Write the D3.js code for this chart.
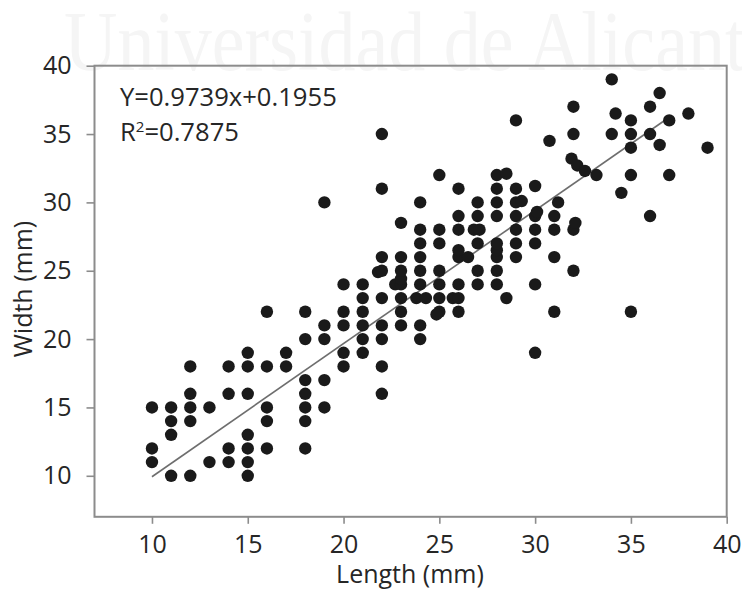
<!DOCTYPE html>
<html>
<head>
<meta charset="utf-8">
<script src="https://cdn.jsdelivr.net/npm/d3@7"></script>
<style>
    body { margin: 0; background: #fff; }
    svg { display: block; }
    text { font-family: "Open Sans", sans-serif; fill: #262626; }
</style>
</head>
<body>
<div id="chart"></div>
<script>
const lengths = [
    11, 12, 15,
    10, 13, 14, 15,
    10, 14, 15, 16, 18,
    11, 15,
    11, 12, 16, 18,
    10, 11, 12, 13, 16, 18, 19,
    12, 14, 15, 18, 22,
    18, 19,
    12, 14, 15, 16, 17, 20, 22,
    15, 17, 20, 21, 30,
    18, 19, 21, 22, 24,
    19, 20, 21, 22, 23, 24,
    16, 18, 20, 21, 23, 25, 26, 31, 35, 24.85,
    21, 22, 23, 23.8, 24.3, 25, 25.7, 26, 28.5,
    20, 21, 22.7, 23, 24, 25, 26, 27, 28, 30, 23,
    21.8, 22, 23, 24, 25, 27, 28, 32,
    22, 23, 24, 26, 26.5, 28, 29, 31, 26, 28,
    24, 25, 27, 28, 29, 30,
    24, 25, 26, 26.8, 27.1, 29, 30, 31, 32,
    26, 27, 28, 29, 30, 31, 36,
    23, 32.1, 30.1,
    19, 24, 27, 28, 29, 29.3, 31.2,
    22, 26, 28, 29,
    25, 28, 28.5, 35, 37, 30,
    31.9, 32.2, 32.6, 33.2, 34.5,
    22, 32, 34, 35, 36, 30.75, 35, 39, 36.5,
    29, 35, 37, 34.2, 38, 32, 36, 36.5, 34
];
const widths = [
    10, 10, 10,
    11, 11, 11, 11,
    12, 12, 12, 12, 12,
    13, 13,
    14, 14, 14, 14,
    15, 15, 15, 15, 15, 15, 15,
    16, 16, 16, 16, 16,
    17, 17,
    18, 18, 18, 18, 18, 18, 18,
    19, 19, 19, 19, 19,
    20, 20, 20, 20, 20,
    21, 21, 21, 21, 21, 21,
    22, 22, 22, 22, 22, 22, 22, 22, 22, 21.8,
    23, 23, 23, 23, 23, 23, 23, 23, 23,
    24, 24, 24, 24, 24, 24, 24, 24, 24, 24, 24.4,
    24.9, 25, 25, 25, 25, 25, 25, 25,
    26, 26, 26, 26, 26, 26, 26, 26, 26.5, 26.5,
    27, 27, 27, 27, 27, 27,
    28, 28, 28, 28, 28, 28, 28, 28, 28,
    29, 29, 29, 29, 29, 29, 29,
    28.5, 28.5, 29.3,
    30, 30, 30, 30, 30, 30.1, 30,
    31, 31, 31, 31,
    32, 32, 32.1, 32, 32, 31.2,
    33.2, 32.7, 32.3, 32, 30.7,
    35, 35, 35, 35, 35, 34.5, 34, 34, 34.2,
    36, 36, 36, 36.5, 36.5, 37, 37, 38, 39
];
const tickValues = [10, 15, 20, 25, 30, 35, 40];
const fitLengths = [10, 37];
const fitWidths = [9.93, 36.23];

const width = 742;
const height = 590;

const svg = d3.select("#chart")
    .append("svg")
    .attr("width", width)
    .attr("height", height);

// watermark, squeezed sideways like the scanned one
svg.append("text")
    .attr("transform", "translate(64,70) scale(0.88,1)")
    .style("font-family", "'Liberation Serif', serif")
    .style("font-size", "84px")
    .style("fill", "#f5f5f5")
    .text("Universidad de Alicante");

const xScale = d3.scaleLinear().domain([7, 40]).range([94.5, 726.7]);
const yScale = d3.scaleLinear().domain([7, 40]).range([516.8, 65.7]);

svg.append("rect")
    .attr("x", xScale(7))
    .attr("y", yScale(40))
    .attr("width", xScale(40) - xScale(7))
    .attr("height", yScale(7) - yScale(40))
    .attr("fill", "none")
    .attr("stroke", "#8c8c8c")
    .attr("stroke-width", 2);

svg.append("g")
    .attr("transform", `translate(0,${yScale(7)})`)
    .call(d3.axisBottom(xScale).tickValues(tickValues).tickSize(7).tickPadding(11).tickSizeOuter(0));

svg.append("g")
    .attr("transform", `translate(${xScale(7)},0)`)
    .call(d3.axisLeft(yScale).tickValues(tickValues).tickSize(8).tickPadding(15).tickSizeOuter(0));

svg.selectAll(".domain").attr("stroke", "none");
svg.selectAll(".tick line").attr("stroke", "#8c8c8c").attr("stroke-width", 1.6);
svg.selectAll(".tick text")
    .style("font-family", "'Open Sans', sans-serif")
    .style("font-size", "25px")
    .style("fill", "#262626");

const line = d3.line()
    .x(d => xScale(d[0]))
    .y(d => yScale(d[1]));

svg.append("path")
    .attr("d", line(d3.zip(fitLengths, fitWidths)))
    .attr("fill", "none")
    .attr("stroke", "#6e6e6e")
    .attr("stroke-width", 1.6);

svg.selectAll(".dot")
    .data(d3.zip(lengths, widths))
    .enter().append("circle")
    .attr("class", "dot")
    .attr("cx", d => xScale(d[0]))
    .attr("cy", d => yScale(d[1]))
    .attr("r", 6.2)
    .attr("fill", "#1a1a1a");

svg.append("text")
    .attr("x", 120)
    .attr("y", 106)
    .style("font-size", "25.6px")
    .text("Y=0.9739x+0.1955");

const rSquared = svg.append("text")
    .attr("x", 120)
    .attr("y", 141)
    .style("font-size", "25.6px");
rSquared.append("tspan").text("R");
rSquared.append("tspan").attr("dy", -9).style("font-size", "15px").text("2");
rSquared.append("tspan").attr("dy", 9).text("=0.7875");

svg.append("text")
    .attr("x", 410)
    .attr("y", 583)
    .attr("text-anchor", "middle")
    .style("font-size", "25px")
    .text("Length (mm)");

svg.append("text")
    .attr("transform", "translate(32,289) rotate(-90)")
    .attr("text-anchor", "middle")
    .style("font-size", "25px")
    .text("Width (mm)");
</script>
</body>
</html>
